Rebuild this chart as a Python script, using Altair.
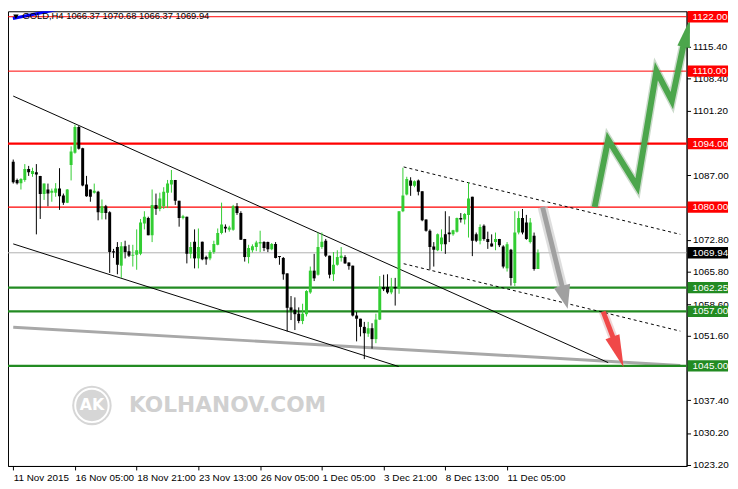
import altair as alt
import pandas as pd

# ---------------- candle data (GOLD, H4) ----------------
opens = [1090.0,1086.0,1085.3,1086.0,1088.4,1087.3,1087.7,1086.9,1082.9,1083.9,
 1083.2,1083.2,1084.1,1082.6,1081.0,1089.3,1092.0,1097.7,1093.0,1085.0,
 1083.9,1083.2,1083.4,1078.7,1080.2,1078.9,1070.3,1071.2,1067.1,1071.4,
 1070.3,1069.3,1069.5,1069.7,1076.4,1077.6,1073.8,1080.5,1079.6,1080.2,
 1083.2,1085.0,1086.0,1081.4,1077.6,1077.9,1069.7,1072.4,1068.7,1072.4,
 1069.0,1068.7,1070.1,1071.7,1074.3,1075.7,1075.0,1075.0,1080.2,1078.7,
 1073.0,1069.0,1070.5,1071.2,1072.0,1072.3,1072.3,1070.7,1071.9,1069.2,
 1068.8,1065.4,1057.9,1057.4,1056.5,1054.9,1056.4,1061.2,1066.0,1065.1,
 1071.2,1072.6,1069.3,1065.2,1067.3,1068.8,1069.0,1067.8,1067.1,1056.1,
 1055.4,1053.6,1052.1,1053.3,1050.9,1055.2,1062.4,1062.4,1061.2,1062.4,
 1062.1,1079.1,1082.8,1085.9,1084.7,1085.9,1083.5,1077.3,1074.8,1071.3,
 1070.5,1071.8,1074.0,1074.4,1074.0,1074.6,1077.6,1077.3,1078.3,1082.3,
 1074.0,1072.6,1075.9,1073.0,1072.0,1072.3,1073.0,1071.3,1066.5,1070.6,
 1063.3,1074.4,1077.6,1076.6,1072.3,1073.7,1066.37]
highs = [1090.5,1086.3,1086.4,1089.5,1089.1,1088.7,1089.5,1086.9,1085.2,1085.2,
 1084.1,1085.3,1088.6,1083.0,1084.0,1093.4,1098.2,1097.9,1093.1,1086.9,
 1083.9,1085.2,1083.6,1081.7,1080.5,1079.1,1070.8,1072.3,1072.3,1072.6,
 1071.7,1071.7,1075.1,1077.4,1079.1,1077.9,1083.9,1083.0,1083.2,1084.4,
 1086.0,1088.2,1086.0,1081.4,1078.3,1077.9,1072.3,1075.1,1075.3,1072.4,
 1069.3,1070.5,1072.6,1075.3,1081.0,1076.2,1075.9,1080.5,1080.9,1079.1,
 1073.0,1071.7,1071.8,1072.6,1074.8,1072.5,1072.4,1072.1,1072.3,1069.2,
 1069.0,1065.4,1060.4,1060.1,1057.9,1058.7,1061.7,1066.9,1069.7,1074.4,
 1074.4,1073.0,1069.3,1070.1,1070.5,1071.2,1069.4,1067.8,1067.1,1056.9,
 1055.4,1054.7,1054.7,1054.4,1056.5,1064.8,1065.1,1065.2,1064.4,1064.4,
 1079.1,1088.7,1086.7,1086.6,1085.9,1086.1,1083.5,1077.3,1075.1,1072.3,
 1074.2,1075.1,1079.1,1078.0,1075.0,1077.7,1078.7,1078.7,1085.5,1082.3,
 1074.4,1076.2,1076.2,1074.6,1074.0,1074.4,1073.0,1071.6,1072.3,1070.8,
 1079.1,1079.1,1079.6,1078.3,1077.6,1074.4,1070.68]
lows = [1085.2,1085.0,1083.9,1085.6,1086.9,1086.7,1074.0,1077.4,1081.6,1080.2,
 1081.2,1082.3,1079.4,1080.5,1080.9,1085.9,1091.8,1092.7,1084.6,1082.3,
 1081.2,1083.0,1077.1,1077.3,1077.3,1065.5,1068.8,1065.2,1064.4,1068.7,
 1069.0,1066.9,1066.2,1069.4,1075.1,1073.8,1072.3,1078.3,1079.1,1079.6,
 1079.8,1083.2,1080.5,1075.7,1077.3,1067.6,1068.7,1066.5,1066.5,1068.3,
 1067.3,1068.3,1069.7,1071.6,1074.0,1074.4,1074.6,1074.8,1078.3,1072.8,
 1068.0,1067.6,1070.0,1070.3,1070.1,1070.3,1070.1,1070.5,1068.7,1067.3,
 1064.0,1052.6,1055.1,1052.9,1054.4,1054.2,1055.9,1060.9,1063.7,1064.9,
 1070.8,1069.0,1064.3,1063.7,1067.1,1068.0,1067.5,1066.2,1055.9,1050.4,
 1051.5,1046.5,1051.4,1048.8,1050.0,1055.1,1061.5,1060.9,1060.8,1058.3,
 1060.9,1078.9,1082.6,1082.5,1084.4,1082.6,1076.9,1074.6,1066.2,1066.9,
 1070.3,1070.3,1069.7,1072.3,1073.7,1074.4,1076.6,1076.2,1073.3,1069.2,
 1072.3,1071.8,1072.6,1070.8,1071.3,1070.5,1071.2,1066.5,1065.8,1062.7,
 1062.6,1074.0,1074.0,1072.8,1072.0,1066.0,1066.37]
closes = [1085.5,1085.3,1086.2,1088.4,1087.7,1088.0,1087.2,1082.9,1085.2,1083.0,
 1083.6,1084.1,1082.4,1081.0,1083.9,1092.3,1097.7,1092.9,1084.8,1082.4,
 1082.3,1083.6,1078.9,1080.2,1078.7,1070.1,1070.0,1067.3,1071.4,1070.1,
 1069.3,1069.5,1070.5,1076.6,1077.9,1073.8,1080.5,1079.6,1081.9,1083.4,
 1085.2,1086.0,1081.4,1077.6,1078.0,1069.7,1071.2,1068.7,1071.2,1068.5,
 1068.5,1070.1,1071.9,1074.3,1076.2,1075.3,1075.5,1080.2,1078.7,1072.8,
 1069.0,1071.0,1071.4,1072.2,1072.3,1071.0,1070.7,1071.9,1068.8,1069.0,
 1065.2,1057.8,1057.2,1056.4,1054.9,1056.5,1061.5,1066.0,1064.3,1071.2,
 1072.4,1069.3,1065.1,1067.3,1069.0,1069.3,1067.6,1067.0,1056.1,1055.4,
 1053.6,1052.2,1053.3,1050.9,1055.2,1062.4,1061.9,1061.2,1062.3,1062.1,
 1079.1,1082.6,1086.2,1084.7,1085.7,1083.4,1077.1,1074.8,1071.2,1070.6,
 1074.0,1073.3,1071.8,1074.0,1074.9,1077.6,1077.3,1078.5,1081.9,1072.6,
 1072.6,1075.6,1073.0,1072.3,1071.3,1073.0,1071.6,1066.9,1071.8,1064.4,
 1074.4,1077.6,1074.4,1073.0,1076.6,1066.37,1069.94]

# ---------------- axes ----------------
time_tick_bars = [0, 16, 32, 48, 64, 80, 96, 112, 128]
time_tick_labels = ["11 Nov 2015", "16 Nov 05:00", "18 Nov 21:00", "23 Nov 13:00",
                    "26 Nov 05:00", "1 Dec 05:00", "3 Dec 21:00", "8 Dec 13:00",
                    "11 Dec 05:00"]
price_ticks = [1115.4, 1108.4, 1101.2, 1087.0, 1072.8, 1065.8,
               1058.6, 1051.6, 1037.4, 1030.2, 1023.2]

# ---------------- levels ----------------
red_levels = [1122.0, 1110.0, 1094.0, 1080.0]
green_levels = [1062.25, 1057.0, 1045.0]
bid_price = 1069.94
header = "GOLD,H4  1066.37 1070.68 1066.37 1069.94"

# ---------------- drawn objects (bar index, price) ----------------
upper_channel = [(0.0, 1104.5), (154.2, 1045.72)]
lower_channel = [(0.0, 1071.9), (99.9, 1044.86)]
gray_trend = [(0.0, 1053.52), (172.9, 1045.1)]
upper_dashed = [(101.2, 1088.87), (172.9, 1074.0)]
lower_dashed = [(101.2, 1067.53), (172.9, 1052.66)]
gray_arrow = [(137.2, 1080.03), (142.7, 1061.07)]
gray_tip = (143.7, 1057.62)
red_arrow = [(152.9, 1056.97), (156.2, 1049.64)]
red_tip = (158.2, 1044.69)
green_path = [(150.7, 1080.03), (154.2, 1094.9), (161.7, 1084.56),
              (166.7, 1109.99), (170.7, 1103.52), (173.9, 1116.45)]
green_tip = (175.4, 1121.41)
blue_line = [(-0.075, 1121.6), (14.9, 1124.2)]
header_pos = (2.4, 1122.05)
marker_pos = (0.7, 1122.0)
logo_pos = (20.4, 1036.28)
brand_pos = (30.0, 1036.28)
brand_text = "KOLHANOV.COM"

# ---------------- chart ----------------
W, H = 688, 461
XDOM = [-0.075, 173.25]
YDOM = [1022.92, 1123.2]
FONT = "Liberation Sans"

label_expr = "[" + ",".join(f"'{t}'" for t in time_tick_labels) + "][round(datum.value/16)]"
x_axis = alt.Axis(values=time_tick_bars, labelExpr=label_expr, orient="bottom", title=None,
                  grid=False, labelAlign="left", labelBaseline="top", labelPadding=3,
                  tickSize=4, tickColor="black", domainColor="black", labelColor="black",
                  labelFont=FONT, labelFontSize=10, labelFlush=False, labelOverlap=False,
                  labelBound=False)
y_axis = alt.Axis(values=price_ticks, format=".2f", orient="right", title=None, grid=False,
                  labelPadding=2, tickSize=4, tickColor="black", domainColor="black",
                  labelColor="black", labelFont=FONT, labelFontSize=10, labelOverlap=False,
                  labelBound=False, labelFlush=False)


def X(field):
    return alt.X(f"{field}:Q", scale=alt.Scale(domain=XDOM, nice=False, zero=False), axis=x_axis)


def Y(field):
    return alt.Y(f"{field}:Q", scale=alt.Scale(domain=YDOM, nice=False, zero=False), axis=y_axis)


n = len(opens)
candles = pd.DataFrame({"i": list(range(n)), "o": opens, "h": highs, "l": lows, "c": closes})
candles["col"] = ["#32CD32" if c > o else "#000000" for o, c in zip(opens, closes)]
candles["b0"] = candles[["o", "c"]].min(axis=1)
candles["b1"] = candles[["o", "c"]].max(axis=1)
thin = candles["b1"] - candles["b0"] < 0.22
candles.loc[thin, "b1"] = candles.loc[thin, "b0"] + 0.22


def line_layer(pts, color, width, dash=None, opacity=1.0, clip=True, cap="butt"):
    df = pd.DataFrame({"x": [p[0] for p in pts], "y": [p[1] for p in pts],
                       "k": list(range(len(pts)))})
    kw = dict(color=color, strokeWidth=width, opacity=opacity, clip=clip,
              strokeCap=cap, strokeJoin="miter")
    if dash:
        kw["strokeDash"] = dash
    return alt.Chart(df).mark_line(**kw).encode(x=X("x"), y=Y("y"), order="k:Q")


def hrule(values, color, width):
    return alt.Chart(pd.DataFrame({"y": values})).mark_rule(
        color=color, strokeWidth=width).encode(y=Y("y"))


def head(tip, shape, size, angle, color, opacity=1.0):
    df = pd.DataFrame({"x": [tip[0]], "y": [tip[1]]})
    return alt.Chart(df).mark_point(shape=shape, filled=True, size=size, angle=angle,
                                    color=color, opacity=opacity, strokeWidth=0,
                                    clip=False).encode(x=X("x"), y=Y("y"))


def point(pos, **kw):
    df = pd.DataFrame({"x": [pos[0]], "y": [pos[1]]})
    return alt.Chart(df).mark_point(**kw).encode(x=X("x"), y=Y("y"))


def text(pos, s, **kw):
    df = pd.DataFrame({"x": [pos[0]], "y": [pos[1]], "t": [s]})
    return alt.Chart(df).mark_text(**kw).encode(x=X("x"), y=Y("y"), text="t:N")


# watermark
logo = point(logo_pos, shape="circle", filled=True, size=1600, color="#D6D6D6", opacity=1)
logo_ring = point(logo_pos, shape="circle", filled=False, size=1150, color="white",
                  strokeWidth=2, opacity=1)
logo_txt = text(logo_pos, "AK", font="DejaVu Sans", fontWeight="bold", fontSize=16,
                color="white", align="center", baseline="middle")
brand = text(brand_pos, brand_text, font="DejaVu Sans", fontWeight="bold", fontSize=22,
             color="#D0D0D0", align="left", baseline="middle")

# horizontal levels
levels = [
    hrule([bid_price], "#B0B0B0", 1),
    hrule(red_levels[:2], "#FF0000", 1),
    hrule([red_levels[2]], "#FF0000", 2.2),
    hrule([red_levels[3]], "#FF0000", 1.4),
]

gray_line = line_layer(gray_trend, "#A8A8A8", 3)
greens = hrule(green_levels, "#228B22", 2.2)

trends = [
    line_layer(upper_channel, "black", 1),
    line_layer(lower_channel, "black", 1),
    line_layer(upper_dashed, "black", 1, dash=[3, 3]),
    line_layer(lower_dashed, "black", 1, dash=[3, 3]),
]

wicks = alt.Chart(candles).mark_rule(strokeWidth=1, clip=True).encode(
    x=X("i"), y=Y("l"), y2="h:Q", color=alt.Color("col:N", scale=None))
bodies = alt.Chart(candles).mark_bar(size=3, clip=True).encode(
    x=X("i"), y=Y("b0"), y2="b1:Q", color=alt.Color("col:N", scale=None))

NARROW = "M0,0L0.5,2.2L-0.5,2.2Z"
WIDE = "M0,0L0.5,1.4L-0.5,1.4Z"
arrows = [
    line_layer(gray_arrow, "#C8C8C8", 10, opacity=0.6),
    line_layer(gray_arrow, "#A0A0A0", 5),
    head(gray_tip, WIDE, 1156, 166, "#A0A0A0"),
    line_layer(red_arrow, "#B03030", 9, opacity=0.2),
    line_layer(red_arrow, "#F04848", 5),
    head(red_tip, NARROW, 900, 160, "#F04848"),
    line_layer(green_path, "#2E6E2E", 9, opacity=0.25, clip=False),
    line_layer(green_path, "#4CA64C", 6, clip=False),
    head(green_tip, NARROW, 676, 13, "#4CA64C"),
]

# price boxes on the right axis
box_df = pd.DataFrame({
    "y": red_levels + green_levels + [bid_price],
    "label": [f"{v:.2f}" for v in red_levels + green_levels + [bid_price]],
    "col": ["#FF0000"] * len(red_levels) + ["#228B22"] * len(green_levels) + ["#000000"],
})
BOX = "M-1,-0.28L1,-0.28L1,0.28L-1,0.28Z"
boxes = alt.Chart(box_df).mark_point(shape=BOX, filled=True, size=41 * 41, opacity=1,
                                     strokeWidth=0).encode(
    x=alt.value(W + 21.5), y=Y("y"), color=alt.Color("col:N", scale=None))
box_txt = alt.Chart(box_df).mark_text(align="left", baseline="middle", font=FONT,
                                      fontSize=10, color="white").encode(
    x=alt.value(W + 6), y=Y("y"), text="label:N")

# header
blue = line_layer(blue_line, "#0000FF", 3)
marker = point(marker_pos, shape="triangle-down", filled=True, size=30, color="black",
               opacity=1)
title = text(header_pos, header, font=FONT, fontSize=9.5, color="black", align="left",
             baseline="middle")

chart = alt.layer(
    logo, logo_ring, logo_txt, brand,
    *levels, gray_line, greens, *trends, wicks, bodies, *arrows,
    boxes, box_txt, blue, marker, title,
).properties(
    width=W, height=H,
    autosize=alt.AutoSizeParams(type="none"),
    padding={"left": 0, "top": 0, "right": 44, "bottom": 20},
).configure_view(stroke="black", strokeWidth=1)

chart.save("out.html", embed_options={"renderer": "svg", "actions": False})
